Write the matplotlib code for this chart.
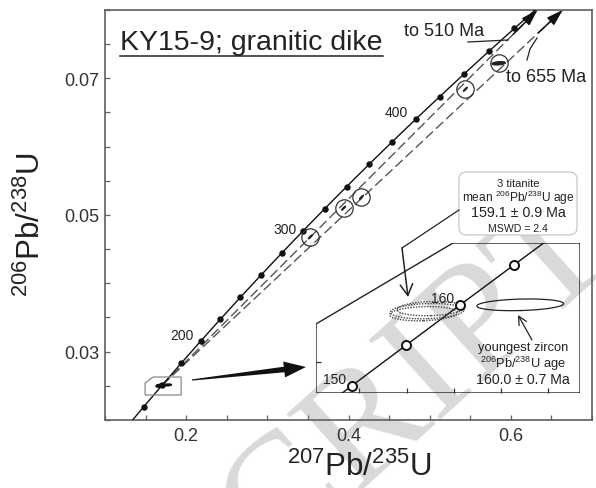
import numpy as np
import matplotlib.pyplot as plt
from matplotlib.patches import Polygon, FancyBboxPatch, FancyArrowPatch
from matplotlib.lines import Line2D
from matplotlib.ticker import FixedLocator, MultipleLocator

plt.rcParams['font.family'] = ['Liberation Sans', 'DejaVu Sans']
plt.rcParams['mathtext.fontset'] = 'custom'
plt.rcParams['mathtext.rm'] = 'Liberation Sans'
plt.rcParams['mathtext.it'] = 'Liberation Sans:italic'
plt.rcParams['mathtext.bf'] = 'Liberation Sans:bold'

# decay constants (1/yr)
L238 = 1.55125e-10
L235 = 9.8485e-10

# concordia age marks (Ma)
marker_ages = [140, 160, 180, 200, 220, 240, 260, 280, 300, 320, 340, 360,
               380, 400, 420, 440, 460, 480]
labelled_ages = [200, 300, 400]
inset_ages = [150, 155, 160, 165]
inset_labelled = [150, 160]

# discordia: lower and upper intercepts (Ma)
lower_intercept = 160
upper_intercepts = [510, 655]

# discordant zircons: 207Pb/235U, 206Pb/238U, errors, rho
grain_x = [0.353, 0.394, 0.416, 0.544, 0.585]
grain_sx = [0.0025, 0.0025, 0.0025, 0.0025, 0.0085]
grain_y = [0.0468, 0.0510, 0.0526, 0.0684, 0.0722]
grain_sy = [0.0003, 0.0003, 0.0003, 0.0003, 0.00025]
grain_rho = [0.9, 0.9, 0.9, 0.9, 0.3]

# titanite analyses (3)
tit_x = [0.1668, 0.1672, 0.1676]
tit_sx = [0.0036, 0.0039, 0.0036]
tit_y = [0.02496, 0.02501, 0.02506]
tit_sy = [0.00014, 0.00015, 0.00014]
tit_rho = [0.15, 0.15, 0.15]

# youngest zircon
zr_x, zr_sx, zr_y, zr_sy, zr_rho = 0.17706, 0.0046, 0.025134, 0.000115, 0.2

W, H = 596, 489
TXT = '#222222'


def fp(px, py):
    # figure pixel (from top-left) -> figure fraction
    return (px / W, 1 - py / H)


def concordia(t_ma):
    t = np.asarray(t_ma, dtype=float) * 1e6
    return np.exp(L235 * t) - 1, np.exp(L238 * t) - 1


def ellipse(x, sx, y, sy, rho, n=120):
    cov = np.array([[sx**2, rho * sx * sy], [rho * sx * sy, sy**2]])
    vals, vecs = np.linalg.eigh(cov)
    th = np.linspace(0, 2 * np.pi, n)
    pts = vecs @ (np.sqrt(vals)[:, None] * np.vstack([np.cos(th), np.sin(th)]))
    return x + pts[0], y + pts[1]


fig = plt.figure(figsize=(W / 100, H / 100), dpi=100)
fig.patch.set_facecolor('white')
ax = fig.add_axes([105 / W, 1 - 421 / H, 487 / W, 410 / H])
ax.patch.set_visible(False)
ax.set_xlim(0.1, 0.7)
ax.set_ylim(0.02, 0.08)

# concordia
cx, cy = concordia(np.linspace(120, 520, 400))
ax.plot(cx, cy, color='#111111', lw=1.0, zorder=3)
mx, my = concordia(marker_ages)
ax.plot(mx, my, 'o', color='#111111', ms=3.6, zorder=3)
for a in labelled_ages:
    lx, ly = concordia(a)
    off = {200: (-19, 6), 300: (-18, 2), 400: (-19, 7)}[a]
    ax.annotate(str(a), (lx, ly), xytext=off, textcoords='offset pixels',
                ha='center', va='center', fontsize=10, color=TXT)

# discordia lines
x0, y0 = concordia(lower_intercept)
for ui in upper_intercepts:
    x1, y1 = concordia(ui)
    slope = (y1 - y0) / (x1 - x0)
    xt = x0 + (0.08 - y0) / slope
    ax.plot([x0, xt], [y0, 0.08], color='#555555', lw=1.0,
            dashes=(7, 3), zorder=2)
    ax.annotate('', xy=(xt, 0.08), xytext=(xt - 0.03, 0.08 - slope * 0.03),
                arrowprops=dict(arrowstyle='-|>,head_length=0.7,head_width=0.22',
                                color='#111111', lw=1.1, mutation_scale=14,
                                shrinkA=0, shrinkB=0),
                annotation_clip=False, zorder=4)

# discordant zircons
for x, sx, y, sy, r in zip(grain_x, grain_sx, grain_y, grain_sy, grain_rho):
    ex, ey = ellipse(x, sx, y, sy, r)
    ax.fill(ex, ey, color='#222222', lw=0.8, zorder=4)
ax.plot(grain_x, grain_y, 'o', mfc='none', mec='#333333', ms=12.5, mew=0.9,
        zorder=4)

# titanite + youngest zircon at main scale
for x, sx, y, sy, r in zip(tit_x, tit_sx, tit_y, tit_sy, tit_rho):
    ex, ey = ellipse(x, sx, y, sy, r)
    ax.fill(ex, ey, color='#111111', lw=1.2, ec='#111111', zorder=4)
ex, ey = ellipse(zr_x, zr_sx, zr_y, zr_sy, zr_rho)
ax.fill(ex, ey, color='#111111', lw=1.2, ec='#111111', zorder=4)

# zoom box in main axes
box = Polygon([(0.1494, 0.02366), (0.1494, 0.02541), (0.1593, 0.02629),
               (0.1938, 0.02629), (0.1938, 0.02366)], closed=True,
              fill=False, ec='#8a8a8a', lw=0.9, zorder=3)
ax.add_patch(box)

# axes styling
for s in ax.spines.values():
    s.set_color('#606060')
    s.set_linewidth(1.2)
ax.xaxis.set_major_locator(FixedLocator([0.2, 0.4, 0.6]))
ax.xaxis.set_minor_locator(MultipleLocator(0.05))
ax.yaxis.set_major_locator(FixedLocator([0.03, 0.05, 0.07]))
ax.yaxis.set_minor_locator(MultipleLocator(0.005))
ax.set_xticklabels(['0.2', '0.4', '0.6'])
ax.set_yticklabels(['0.03', '0.05', '0.07'])
ax.tick_params(which='both', direction='in', length=3.3, width=0.9,
               color='#606060', top=False, right=False)
ax.tick_params(axis='both', labelsize=13, labelcolor='#333333')
ax.tick_params(axis='x', pad=5)
ax.tick_params(axis='y', pad=4)

fig.text(*fp(359, 467), r'$^{207}$Pb/$^{235}$U', ha='center', va='center',
         fontsize=22.5, color=TXT)
fig.text(*fp(31, 225), r'$^{206}$Pb/$^{238}$U', ha='center', va='center',
         rotation=90, fontsize=22.5, color=TXT)

# title with underline
title = fig.text(*fp(120, 50), 'KY15-9; granitic dike', ha='left',
                 va='baseline', fontsize=20.5, color=TXT)
fig.canvas.draw()
bb = title.get_window_extent(fig.canvas.get_renderer())
fig.add_artist(Line2D([bb.x0 / W, bb.x1 / W], [fp(0, 57)[1]] * 2,
                      transform=fig.transFigure, color=TXT, lw=1.1))

# intercept notes
fig.text(*fp(444, 32), 'to 510 Ma', ha='center', va='center', fontsize=13,
         color=TXT)
fig.add_artist(Line2D(*zip(fp(468, 43), fp(508, 41)),
                      transform=fig.transFigure, color='#222222', lw=0.9))
fig.text(*fp(546, 78), 'to 655 Ma', ha='center', va='center', fontsize=13,
         color=TXT)
fig.add_artist(Line2D(*zip(fp(527, 61), fp(530, 50), fp(537, 39)),
                      transform=fig.transFigure, color='#222222', lw=0.9))

# big black pointer from zoom box to inset
tail = np.array([192.0, 381.0])
tip = np.array([306.0, 368.0])
u = (tip - tail) / np.linalg.norm(tip - tail)
n = np.array([-u[1], u[0]])
base = tip - u * 22
pts = [tail + n * 0.6, base + n * 2.8, base + n * 8, tip,
       base - n * 8, base - n * 2.8, tail - n * 0.6]
fig.add_artist(Polygon([fp(*p) for p in pts], closed=True,
                       transform=fig.transFigure, fc='#111111', ec='none'))

# inset
ax_in = fig.add_axes([316 / W, 1 - 394 / H, 264 / W, 150 / H])
ax_in.patch.set_visible(False)
ax_in.set_xlim(0.1554, 0.1834)
ax_in.set_ylim(0.02340, 0.02635)
for s in ax_in.spines.values():
    s.set_visible(False)
frame = Polygon([(0, 0), (0, 0.46), (0.519, 1), (1, 1), (1, 0)], closed=True,
                transform=ax_in.transAxes, fill=False, ec='#222222', lw=1.0)
ax_in.add_patch(frame)
ax_in.set_xticks([0.16, 0.165, 0.17, 0.175, 0.18])
ax_in.set_yticks([0.024])
ax_in.tick_params(direction='in', length=3.3, width=0.9, color='#333333',
                  labelbottom=False, labelleft=False, top=False, right=False)

icx, icy = concordia(np.linspace(140, 175, 200))
ln, = ax_in.plot(icx, icy, color='#111111', lw=1.0, zorder=3)
ln.set_clip_path(frame)
ix, iy = concordia(inset_ages)
mk, = ax_in.plot(ix, iy, 'o', mfc='white', mec='#111111', ms=6.5, mew=1.4,
                 zorder=5)
mk.set_clip_path(frame)
for a in inset_labelled:
    lx, ly = concordia(a)
    ax_in.annotate(str(a), (lx, ly), xytext=(-17, 7), textcoords='offset pixels',
                   ha='center', va='center', fontsize=10, color=TXT)

for x, sx, y, sy, r in zip(tit_x, tit_sx, tit_y, tit_sy, tit_rho):
    ex, ey = ellipse(x, sx, y, sy, r)
    ax_in.plot(ex, ey, color='#444444', lw=1.0, ls=(0, (1, 1)), zorder=4)
ex, ey = ellipse(zr_x, zr_sx, zr_y, zr_sy, zr_rho)
ax_in.plot(ex, ey, color='#222222', lw=0.9, zorder=4)

fig.text(*fp(523, 348), 'youngest zircon', ha='center', va='center',
         fontsize=9.3, color=TXT)
fig.text(*fp(523, 364), r'$^{206}$Pb/$^{238}$U age', ha='center',
         va='center', fontsize=9.3, color=TXT)
fig.text(*fp(523, 380), '160.0 ± 0.7 Ma', ha='center', va='center',
         fontsize=10.2, color=TXT)
fig.add_artist(FancyArrowPatch(fp(532, 341), fp(518, 316),
                               transform=fig.transFigure,
                               arrowstyle='->,head_length=0.6,head_width=0.3',
                               mutation_scale=10, color='#222222', lw=0.9,
                               shrinkA=0, shrinkB=0))

# titanite label box
fig.add_artist(FancyBboxPatch(fp(459, 236), 118 / W, 63 / H,
                              boxstyle='round,pad=0,rounding_size=0.014',
                              transform=fig.transFigure, fc='white',
                              ec='#c8c8c8', lw=0.9, zorder=2))
fig.text(*fp(518, 184), '3 titanite', ha='center', va='center', fontsize=8,
         color=TXT, zorder=3)
fig.text(*fp(518, 198), r'mean $^{206}$Pb/$^{238}$U age', ha='center',
         va='center', fontsize=8.6, color=TXT, zorder=3)
fig.text(*fp(518, 213), '159.1 ± 0.9 Ma', ha='center', va='center',
         fontsize=10.3, color=TXT, zorder=3)
fig.text(*fp(518, 229), 'MSWD = 2.4', ha='center', va='center', fontsize=7.6,
         color=TXT, zorder=3)
fig.add_artist(Line2D(*zip(fp(459, 211), fp(402, 249)),
                      transform=fig.transFigure, color='#222222', lw=0.9))
fig.add_artist(FancyArrowPatch(fp(402, 249), fp(408, 298),
                               transform=fig.transFigure,
                               arrowstyle='->,head_length=0.8,head_width=0.45',
                               mutation_scale=10, color='#222222', lw=1.1,
                               shrinkA=0, shrinkB=0))

# manuscript watermark
fig.text(*fp(592, 226), 'MANUSCRIPT', ha='right', va='center', rotation=42,
         rotation_mode='anchor', fontsize=118, color='#d9d9d9',
         family='Liberation Serif', zorder=-5)

fig.savefig('out.png', dpi=100)
